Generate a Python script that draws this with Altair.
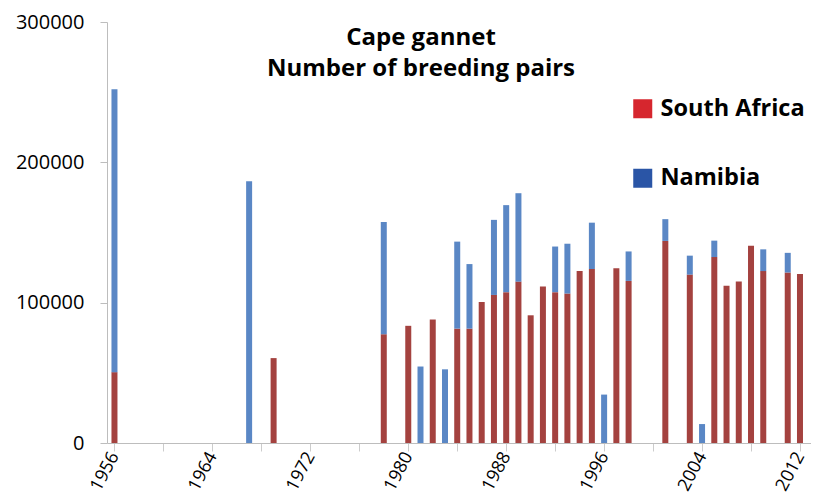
import altair as alt
import pandas as pd

years = [1956, 1967, 1969, 1978, 1980, 1981, 1982, 1983, 1984, 1985, 1986, 1987,
         1988, 1989, 1990, 1991, 1992, 1993, 1994, 1995, 1996, 1997, 1998, 2001,
         2003, 2004, 2005, 2006, 2007, 2008, 2009, 2011, 2012]
south_africa = [50500, 0, 60500, 77500, 83500, 0, 88000, 0, 81500, 81500, 100500, 105500,
                107500, 115000, 91000, 111500, 107500, 106500, 122500, 124000, 0, 124500, 115500, 144000,
                120000, 0, 132500, 112000, 115000, 140500, 122500, 121500, 120500]
namibia = [201500, 186500, 0, 80000, 0, 54500, 0, 52500, 62000, 46000, 0, 53500,
           62000, 63000, 0, 0, 32500, 35500, 0, 33000, 34500, 0, 21000, 15500,
           13500, 13500, 11700, 0, 0, 0, 15500, 14000, 0]
countries = ["South Africa", "Namibia"]
bar_colors = ["#A4423F", "#5A87C5"]
legend_colors = ["#D6262E", "#2A55A6"]
tick_years = list(range(1956, 2013))
y_ticks = [0, 100000, 200000, 300000]

rows = []
for yr, sa, na in zip(years, south_africa, namibia):
    rows.append({"year": yr, "country": "South Africa", "pairs": sa, "ord": 0})
    rows.append({"year": yr, "country": "Namibia", "pairs": na, "ord": 1})
df = pd.DataFrame(rows)
legdf = pd.DataFrame({"country": countries, "year": [1956, 1956], "pairs": [10000, 10000]})

FONT = "Open Sans"

x_enc = alt.X(
    "year:Q",
    scale=alt.Scale(domain=[1955.39, 2012.9], nice=False, zero=False, padding=0),
    axis=alt.Axis(
        values=tick_years, format="d",
        labelExpr="(datum.value - 1956) % 8 === 0 ? datum.label : ''",
        labelAngle=-62, labelFontSize=18, labelFont=FONT, labelColor="black",
        labelPadding=2, labelOverlap=False, labelFlush=False, labelBound=False,
        tickSize=8, tickColor="#CCCCCC", domainColor="#BDBDBD", grid=False, title=None,
    ),
)
y_enc = alt.Y(
    "pairs:Q", stack="zero",
    scale=alt.Scale(domain=[0, 300000], nice=False),
    axis=alt.Axis(
        values=y_ticks, format="d", labelFontSize=20, labelFont=FONT, labelColor="black",
        tickSize=7, tickColor="#BDBDBD", domainColor="#BDBDBD", labelPadding=16,
        labelFlush=False, grid=False, title=None,
    ),
)

legend_layer = alt.Chart(legdf).mark_square(size=1, opacity=1).encode(
    x=alt.X("year:Q"),
    y=alt.Y("pairs:Q"),
    color=alt.Color(
        "country:N",
        scale=alt.Scale(domain=countries, range=legend_colors),
        legend=alt.Legend(
            title=None, orient="none", legendX=524, legendY=75, direction="vertical",
            symbolType="square", symbolSize=361, symbolStrokeWidth=0, symbolOpacity=1,
            labelFontSize=23.5, labelFont=FONT, labelFontWeight="bold", labelColor="black",
            labelOffset=6, rowPadding=44.5, padding=0,
        ),
    ),
)

bars = alt.Chart(df).mark_bar(size=6).encode(
    x=x_enc,
    y=y_enc,
    color=alt.Color("country:N", scale=alt.Scale(domain=countries, range=bar_colors), legend=None),
    order=alt.Order("ord:Q", sort="ascending"),
)

chart = alt.layer(legend_layer, bars).resolve_scale(color="independent").properties(
    width=704, height=421,
    padding={"left": 99, "top": 14, "right": 0, "bottom": 51},
    autosize="none",
    title=alt.Title(
        ["Cape gannet", "Number of breeding pairs"], anchor="middle", frame="group",
        fontSize=24, font=FONT, fontWeight="bold", color="black",
        baseline="top", offset=0, dx=-38, dy=69, lineHeight=31.5,
    ),
).configure_view(stroke=None)

chart.save("out.html", embed_options={"renderer": "svg", "actions": False})
